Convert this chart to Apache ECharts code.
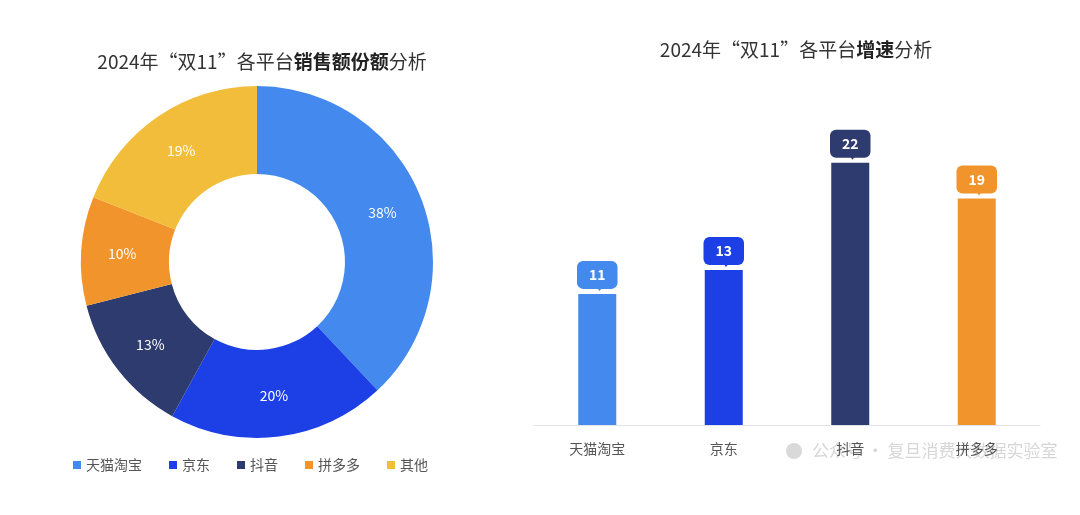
<!DOCTYPE html>
<html>
<head>
<meta charset="utf-8">
<script src="https://cdn.jsdelivr.net/npm/echarts@6/dist/echarts.min.js"></script>
<style>
html,body{margin:0;padding:0;background:#fff;}
#c{width:1080px;height:515px;}
</style>
</head>
<body>
<div id="c"></div>
<script>
const platforms = ['天猫淘宝', '京东', '抖音', '拼多多', '其他'];
const shareValues = [38, 20, 13, 10, 19];
const shareColors = ['#4389ee', '#1c40e6', '#2e3b6e', '#f0942b', '#f2bd3a'];
const growthCategories = ['天猫淘宝', '京东', '抖音', '拼多多'];
const growthValues = [11, 13, 22, 19];
const growthColors = ['#4389ee', '#1c40e6', '#2e3b6e', '#f0942b'];

const FONT = '"Noto Sans CJK SC", "Noto Sans", sans-serif';
const chart = echarts.init(document.getElementById('c'), null, {renderer: 'canvas'});

const titleRich = {
  n: {fontSize: 19, color: '#333', fontFamily: FONT, fontWeight: 'normal'},
  b: {fontSize: 19, color: '#222', fontFamily: FONT, fontWeight: 'bold'}
};

chart.setOption({
  backgroundColor: '#ffffff',
  textStyle: {fontFamily: FONT},
  title: [
    {
      text: '{n|2024年“双11”各平台}{b|销售额份额}{n|分析}',
      left: 257, top: 47, textAlign: 'center',
      textStyle: {rich: titleRich}
    },
    {
      text: '{n|2024年“双11”各平台}{b|增速}{n|分析}',
      left: 791, top: 35, textAlign: 'center',
      textStyle: {rich: titleRich}
    }
  ],
  legend: {
    data: platforms,
    left: 68, top: 453,
    itemWidth: 8, itemHeight: 8, itemGap: 27,
    icon: 'rect',
    textStyle: {fontSize: 14, color: '#555', fontFamily: FONT}
  },
  grid: {left: 534, right: 40, top: 127, bottom: 90},
  xAxis: {
    type: 'category',
    data: growthCategories,
    axisLine: {lineStyle: {color: '#e0e3ea', width: 1}},
    axisTick: {show: false},
    axisLabel: {fontSize: 14, color: '#555', margin: 17, fontFamily: FONT}
  },
  yAxis: {
    type: 'value', min: 0, max: 25, interval: 5,
    show: false,
    splitLine: {show: false}
  },
  series: [
    {
      type: 'pie',
      center: [257, 262],
      radius: [88, 176],
      startAngle: 90,
      clockwise: true,
      avoidLabelOverlap: false,
      label: {
        show: true, position: 'inside',
        formatter: '{c}%',
        color: '#fff', fontSize: 14, fontFamily: FONT
      },
      labelLine: {show: false},
      data: platforms.map((n, i) => ({name: n, value: shareValues[i], itemStyle: {color: shareColors[i]}}))
    },
    {
      type: 'bar',
      barWidth: 38,
      data: growthValues.map((v, i) => ({
        value: v,
        itemStyle: {color: growthColors[i]},
        label: {backgroundColor: growthColors[i]}
      })),
      label: {
        show: true, position: 'top', distance: 5,
        color: '#fff', fontSize: 14, fontWeight: 'bold', fontFamily: FONT,
        padding: [7, 12, 7, 12], borderRadius: 6
      },
      z: 2
    },
    {
      type: 'scatter',
      silent: true,
      symbol: 'path://M0,0 L10,0 L4,6 Z',
      symbolSize: [9, 6],
      symbolOffset: [3, -6],
      data: growthValues.map((v, i) => ({value: v, itemStyle: {color: growthColors[i], opacity: 1}})),
      z: 3
    }
  ],
  graphic: [
    {
      type: 'text', left: 812, top: 442, z: -1,
      style: {text: '公众号 · 复旦消费大数据实验室', fill: 'rgba(180,180,180,0.55)', font: '17px "Noto Sans CJK SC"'}
    },
    {
      type: 'circle', left: 786, top: 443, z: -1,
      shape: {r: 8},
      style: {fill: 'rgba(180,180,180,0.5)'}
    }
  ]
});
</script>
</body>
</html>
